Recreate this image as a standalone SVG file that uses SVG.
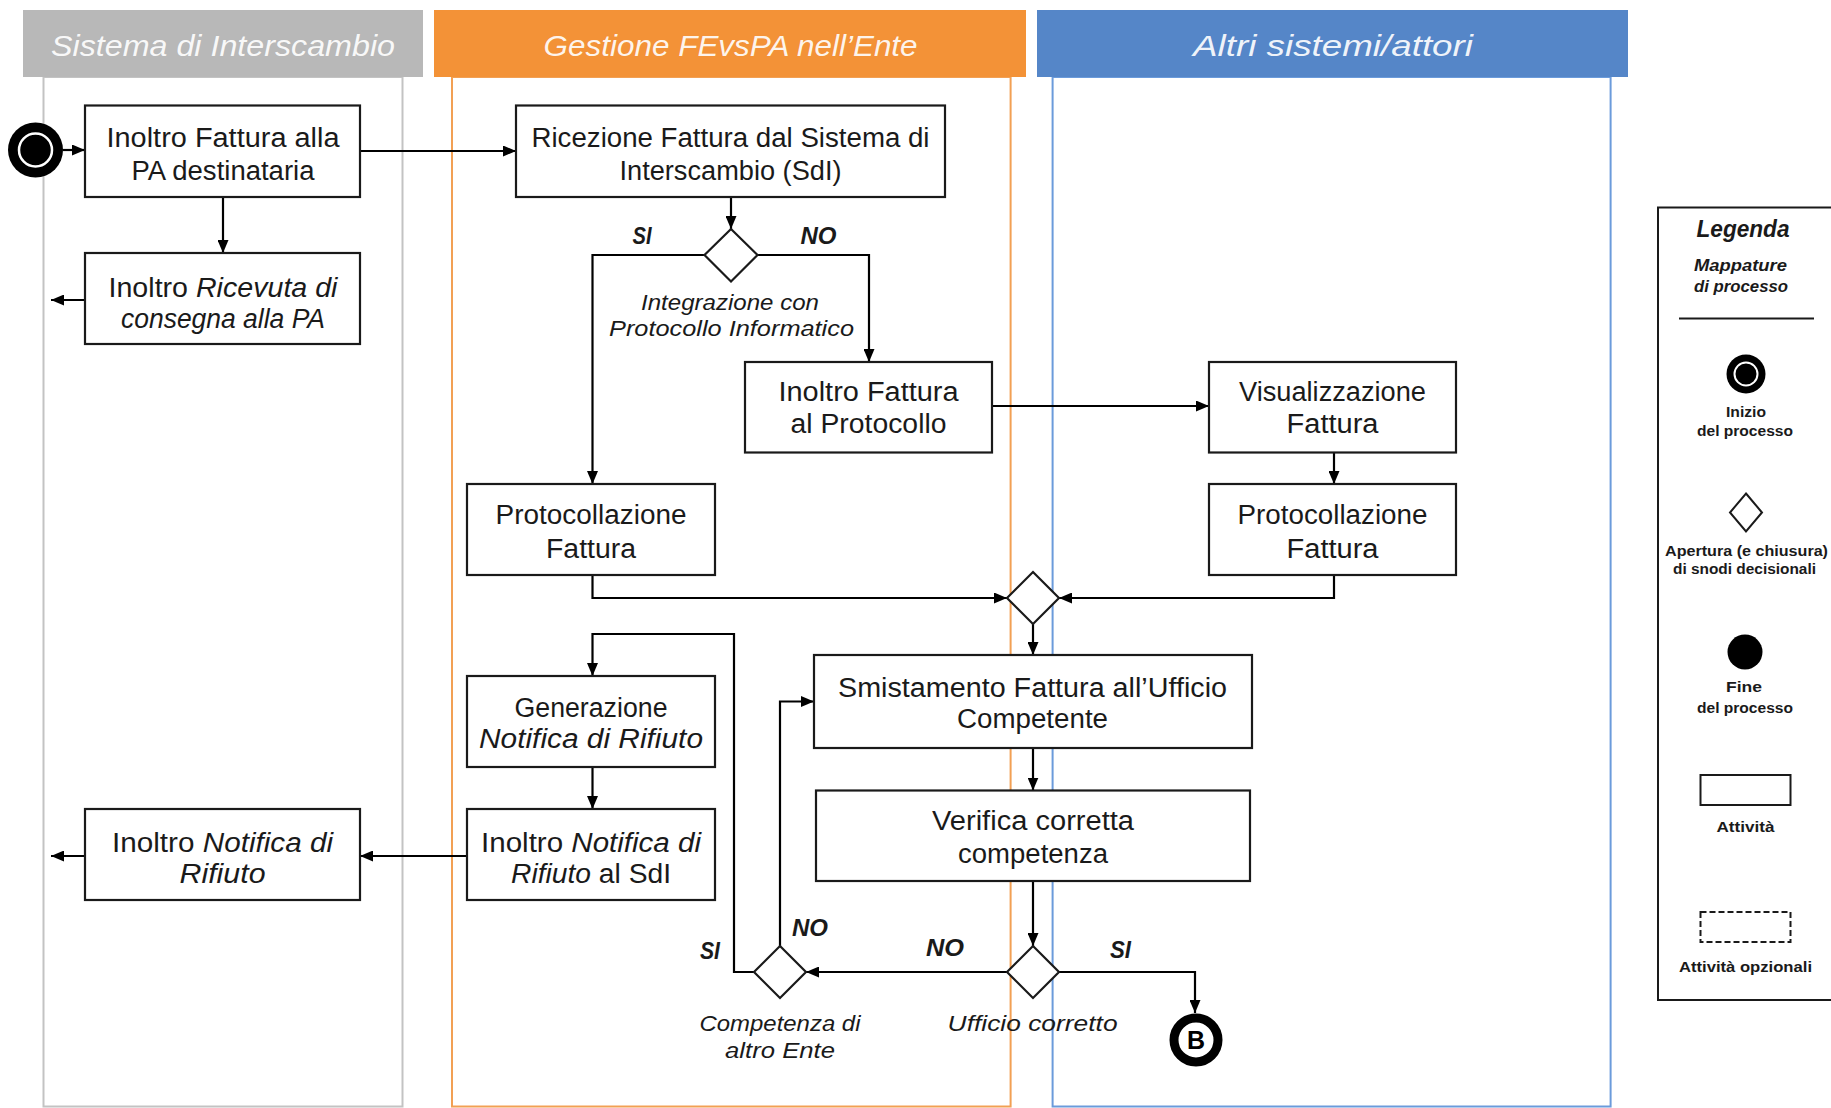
<svg xmlns="http://www.w3.org/2000/svg" width="1831" height="1108" viewBox="0 0 1831 1108">
<defs>
<style>
.hdr{font-family:"Liberation Sans",Arial,sans-serif;font-style:italic;font-size:30px;fill:#ffffff;fill-opacity:0.92;text-anchor:middle}
.box{fill:#ffffff;stroke:#1a1a1a;stroke-width:2.2}
.t{font-family:"Liberation Sans",Arial,sans-serif;font-size:27px;fill:#1a1a1a;text-anchor:middle}
.i{font-style:italic}
.lbl{font-family:"Liberation Sans",Arial,sans-serif;font-size:22px;font-style:italic;fill:#1a1a1a;text-anchor:middle}
.yn{font-family:"Liberation Sans",Arial,sans-serif;font-size:24px;font-style:italic;font-weight:bold;fill:#1a1a1a;text-anchor:middle}
.lg{font-family:"Liberation Sans",Arial,sans-serif;font-size:14px;font-weight:bold;fill:#1a1a1a;text-anchor:middle}
.dia{fill:#ffffff;stroke:#1a1a1a;stroke-width:2.2}
.con{fill:none;stroke:#000;stroke-width:2.2;marker-end:url(#arr)}
</style>
<marker id="arr" markerUnits="userSpaceOnUse" markerWidth="13" markerHeight="11" refX="13" refY="5.5" orient="auto">
<path d="M0,0 L13,5.5 L0,11 z" fill="#000"/>
</marker>
</defs>
<rect width="1831" height="1108" fill="#ffffff"/>

<g id="lanes">
<rect x="43.5" y="77" width="359" height="1029.5" fill="none" stroke="#c3c3c3" stroke-width="2"/>
<rect x="452" y="77" width="558.6" height="1029.5" fill="none" stroke="#f2a054" stroke-width="2"/>
<rect x="1052.6" y="77" width="558" height="1029.5" fill="none" stroke="#6b9bdb" stroke-width="2"/>
<rect x="23" y="10" width="400" height="67" fill="#b8b8b8"/>
<rect x="434" y="10" width="592" height="67" fill="#f39237"/>
<rect x="1037" y="10" width="591" height="67" fill="#5586c8"/>
<text class="hdr" x="223" y="56" textLength="344" lengthAdjust="spacingAndGlyphs">Sistema di Interscambio</text>
<text class="hdr" x="730.6" y="56" textLength="374" lengthAdjust="spacingAndGlyphs">Gestione FEvsPA nell’Ente</text>
<text class="hdr" x="1333" y="56" textLength="280" lengthAdjust="spacingAndGlyphs">Altri sistemi/attori</text>
</g>

<g id="connectors">
<path class="con" d="M63,150 L85,150"/>
<path class="con" d="M360,151 L516,151"/>
<path class="con" d="M223,197 L223,253"/>
<path class="con" d="M85,300 L51,300"/>
<path class="con" d="M731,197 L731,229"/>
<path class="con" d="M704.5,255 L592.5,255 L592.5,484"/>
<path class="con" d="M757.5,255 L869,255 L869,362"/>
<path class="con" d="M992,406 L1209,406"/>
<path class="con" d="M1334,452.5 L1334,484"/>
<path class="con" d="M592.5,575 L592.5,598 L1007,598"/>
<path class="con" d="M1334,575 L1334,598 L1059,598"/>
<path class="con" d="M1033,624 L1033,655"/>
<path class="con" d="M1033,748 L1033,790.5"/>
<path class="con" d="M1033,881 L1033,946"/>
<path class="con" d="M1007,972 L806,972"/>
<path class="con" d="M1059,972 L1195,972 L1195,1013"/>
<path class="con" d="M780,946 L780,701.5 L814,701.5"/>
<path class="con" d="M754,972 L734,972 L734,634 L592.5,634 L592.5,676"/>
<path class="con" d="M592.5,767 L592.5,809"/>
<path class="con" d="M467,856 L360,856"/>
<path class="con" d="M85,856 L51,856"/>
</g>

<g id="start">
<circle cx="35.5" cy="150" r="27.5" fill="#000"/>
<circle cx="35.5" cy="150" r="16.5" fill="#000" stroke="#ffffff" stroke-width="2.5"/>
</g>

<g id="n-inoltro-fattura">
<rect class="box" x="85" y="105.5" width="275" height="91.5"/>
<text class="t" x="223" y="146.5" textLength="233" lengthAdjust="spacingAndGlyphs">Inoltro Fattura alla</text>
<text class="t" x="223" y="179.5" textLength="183" lengthAdjust="spacingAndGlyphs">PA destinataria</text>
</g>

<g id="n-ricezione">
<rect class="box" x="516" y="105.5" width="429" height="91.5"/>
<text class="t" x="730.5" y="146.5" textLength="398" lengthAdjust="spacingAndGlyphs">Ricezione Fattura dal Sistema di</text>
<text class="t" x="730.5" y="179.5" textLength="222" lengthAdjust="spacingAndGlyphs">Interscambio (SdI)</text>
</g>

<g id="n-ricevuta">
<rect class="box" x="85" y="253" width="275" height="91"/>
<text class="t" x="223" y="296.5" textLength="229" lengthAdjust="spacingAndGlyphs">Inoltro <tspan class="i">Ricevuta di</tspan></text>
<text class="t i" x="223" y="327.5" textLength="204" lengthAdjust="spacingAndGlyphs">consegna alla PA</text>
</g>

<g id="d-integrazione">
<polygon class="dia" points="731,229 757.5,255 731,281.5 704.5,255"/>
<text class="yn" x="642" y="243.5" textLength="19" lengthAdjust="spacingAndGlyphs">SI</text>
<text class="yn" x="818.5" y="243.5" textLength="36" lengthAdjust="spacingAndGlyphs">NO</text>
<text class="lbl" x="730" y="310" textLength="178" lengthAdjust="spacingAndGlyphs">Integrazione con</text>
<text class="lbl" x="731.5" y="336" textLength="245" lengthAdjust="spacingAndGlyphs">Protocollo Informatico</text>
</g>

<g id="n-inoltro-protocollo">
<rect class="box" x="745" y="362" width="247" height="90.5"/>
<text class="t" x="868.5" y="401.2" textLength="180" lengthAdjust="spacingAndGlyphs">Inoltro Fattura</text>
<text class="t" x="868.5" y="432.5" textLength="156" lengthAdjust="spacingAndGlyphs">al Protocollo</text>
</g>

<g id="n-visualizzazione">
<rect class="box" x="1209" y="362" width="247" height="90.5"/>
<text class="t" x="1332.5" y="401.2" textLength="187" lengthAdjust="spacingAndGlyphs">Visualizzazione</text>
<text class="t" x="1332.5" y="432.5" textLength="92" lengthAdjust="spacingAndGlyphs">Fattura</text>
</g>

<g id="n-protocollazione-ente">
<rect class="box" x="467" y="484" width="248" height="91"/>
<text class="t" x="591" y="523.5" textLength="191" lengthAdjust="spacingAndGlyphs">Protocollazione</text>
<text class="t" x="591" y="557.5" textLength="90" lengthAdjust="spacingAndGlyphs">Fattura</text>
</g>

<g id="n-protocollazione-altri">
<rect class="box" x="1209" y="484" width="247" height="91"/>
<text class="t" x="1332.5" y="523.5" textLength="190" lengthAdjust="spacingAndGlyphs">Protocollazione</text>
<text class="t" x="1332.5" y="557.5" textLength="92" lengthAdjust="spacingAndGlyphs">Fattura</text>
</g>

<g id="d-merge">
<polygon class="dia" points="1033,572 1059,598 1033,624 1007,598"/>
</g>

<g id="n-smistamento">
<rect class="box" x="814" y="655" width="438" height="93"/>
<text class="t" x="1032.5" y="696.5" textLength="389" lengthAdjust="spacingAndGlyphs">Smistamento Fattura all’Ufficio</text>
<text class="t" x="1032.5" y="727.5" textLength="151" lengthAdjust="spacingAndGlyphs">Competente</text>
</g>

<g id="n-verifica">
<rect class="box" x="816" y="790.5" width="434" height="90.5"/>
<text class="t" x="1033" y="829.5" textLength="202" lengthAdjust="spacingAndGlyphs">Verifica corretta</text>
<text class="t" x="1033" y="862.5" textLength="150" lengthAdjust="spacingAndGlyphs">competenza</text>
</g>

<g id="n-generazione">
<rect class="box" x="467" y="676" width="248" height="91"/>
<text class="t" x="591" y="716.5" textLength="153" lengthAdjust="spacingAndGlyphs">Generazione</text>
<text class="t i" x="591" y="747.5" textLength="224" lengthAdjust="spacingAndGlyphs">Notifica di Rifiuto</text>
</g>

<g id="n-notifica-sdi">
<rect class="box" x="467" y="809" width="248" height="91"/>
<text class="t" x="591" y="851.5" textLength="220" lengthAdjust="spacingAndGlyphs">Inoltro <tspan class="i">Notifica di</tspan></text>
<text class="t" x="591" y="882.5" textLength="160" lengthAdjust="spacingAndGlyphs"><tspan class="i">Rifiuto</tspan> al SdI</text>
</g>

<g id="n-notifica-pa">
<rect class="box" x="85" y="809" width="275" height="91"/>
<text class="t" x="222.5" y="851.5" textLength="221" lengthAdjust="spacingAndGlyphs">Inoltro <tspan class="i">Notifica di</tspan></text>
<text class="t i" x="222.5" y="882.5" textLength="86" lengthAdjust="spacingAndGlyphs">Rifiuto</text>
</g>

<g id="d-competenza">
<polygon class="dia" points="780,946 806,972 780,998 754,972"/>
<text class="yn" x="710" y="958.6" textLength="20" lengthAdjust="spacingAndGlyphs">SI</text>
<text class="yn" x="810" y="935.6" textLength="36" lengthAdjust="spacingAndGlyphs">NO</text>
<text class="lbl" x="780" y="1031" textLength="161" lengthAdjust="spacingAndGlyphs">Competenza di</text>
<text class="lbl" x="780" y="1058" textLength="110" lengthAdjust="spacingAndGlyphs">altro Ente</text>
</g>

<g id="d-ufficio">
<polygon class="dia" points="1033,946 1059,972 1033,998 1007,972"/>
<text class="yn" x="945" y="955.6" textLength="38" lengthAdjust="spacingAndGlyphs">NO</text>
<text class="yn" x="1120.5" y="957.6" textLength="21" lengthAdjust="spacingAndGlyphs">SI</text>
<text class="lbl" x="1032.6" y="1031" textLength="170" lengthAdjust="spacingAndGlyphs">Ufficio corretto</text>
</g>

<g id="connector-b">
<circle cx="1196" cy="1040" r="22" fill="#ffffff" stroke="#000" stroke-width="9"/>
<text x="1196" y="1049" font-family="Liberation Sans, Arial, sans-serif" font-size="25" font-weight="bold" text-anchor="middle" fill="#000">B</text>
</g>

<g id="legend">
<rect x="1658" y="207.5" width="185" height="792.5" fill="none" stroke="#1a1a1a" stroke-width="2"/>
<text x="1743" y="237" font-family="Liberation Sans, Arial, sans-serif" font-size="24" font-style="italic" font-weight="bold" text-anchor="middle" fill="#1a1a1a" textLength="93" lengthAdjust="spacingAndGlyphs">Legenda</text>
<text x="1694" y="271" font-family="Liberation Sans, Arial, sans-serif" font-size="16" font-style="italic" font-weight="bold" fill="#1a1a1a" textLength="93" lengthAdjust="spacingAndGlyphs">Mappature</text>
<text x="1694" y="292" font-family="Liberation Sans, Arial, sans-serif" font-size="16" font-style="italic" font-weight="bold" fill="#1a1a1a" textLength="94" lengthAdjust="spacingAndGlyphs">di processo</text>
<line x1="1679" y1="318.5" x2="1814" y2="318.5" stroke="#1a1a1a" stroke-width="2"/>
<circle cx="1746" cy="374" r="19.5" fill="#000"/>
<circle cx="1746" cy="374" r="11.5" fill="#000" stroke="#ffffff" stroke-width="2"/>
<text class="lg" x="1746" y="417" textLength="40" lengthAdjust="spacingAndGlyphs">Inizio</text>
<text class="lg" x="1745" y="436" textLength="96" lengthAdjust="spacingAndGlyphs">del processo</text>
<polygon points="1746,493.5 1762,512.5 1746,531.5 1730,512.5" fill="#ffffff" stroke="#1a1a1a" stroke-width="2"/>
<text class="lg" x="1746.5" y="556" textLength="163" lengthAdjust="spacingAndGlyphs">Apertura (e chiusura)</text>
<text class="lg" x="1744.5" y="574" textLength="143" lengthAdjust="spacingAndGlyphs">di snodi decisionali</text>
<circle cx="1745" cy="652" r="17.5" fill="#000"/>
<text class="lg" x="1744" y="692" textLength="36" lengthAdjust="spacingAndGlyphs">Fine</text>
<text class="lg" x="1745" y="713" textLength="96" lengthAdjust="spacingAndGlyphs">del processo</text>
<rect x="1700.5" y="775" width="90" height="30" fill="#ffffff" stroke="#1a1a1a" stroke-width="2"/>
<text class="lg" x="1745.5" y="832" textLength="58" lengthAdjust="spacingAndGlyphs">Attività</text>
<rect x="1700.5" y="912" width="90" height="30" fill="#ffffff" stroke="#1a1a1a" stroke-width="2" stroke-dasharray="6,3"/>
<text class="lg" x="1745.5" y="972" textLength="133" lengthAdjust="spacingAndGlyphs">Attività opzionali</text>
</g>
</svg>
